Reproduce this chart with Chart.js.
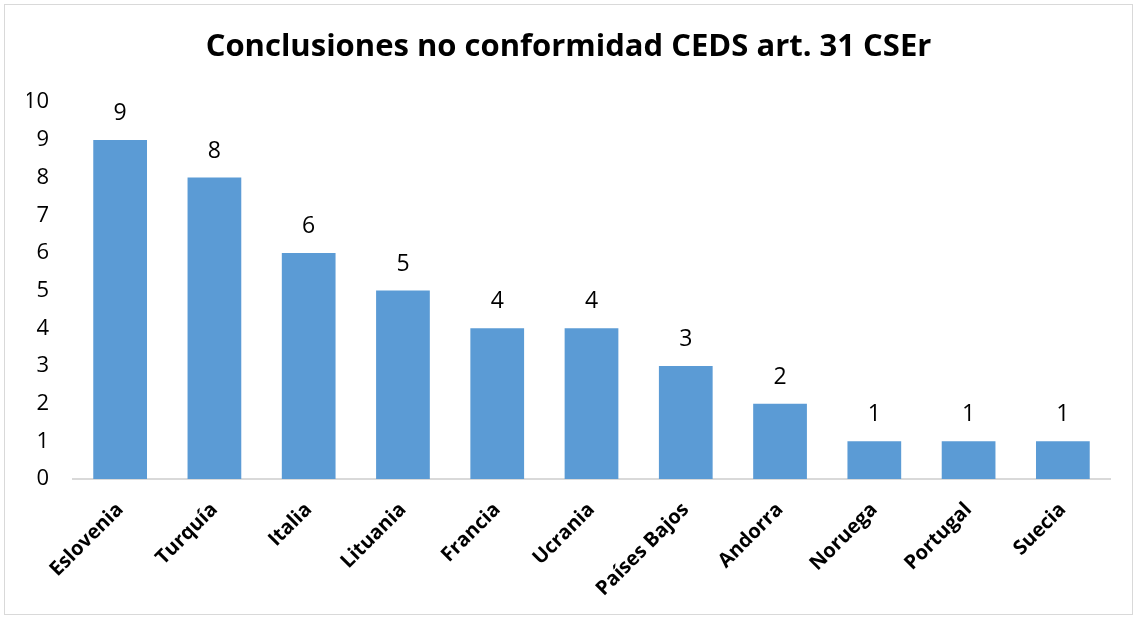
<!DOCTYPE html>
<html>
<head>
<meta charset="utf-8">
<script src="https://cdn.jsdelivr.net/npm/chart.js@4"></script>
<style>
  body { margin: 0; background: #fff; }
  #box { position: absolute; left: 4px; top: 4px; width: 1127px; height: 609px; border: 1px solid #d9d9d9; }
  canvas { display: block; }
</style>
</head>
<body>
<div id="box"><canvas id="myChart"></canvas></div>
<script>
const countries = ["Eslovenia", "Turquía", "Italia", "Lituania", "Francia", "Ucrania", "Países Bajos", "Andorra", "Noruega", "Portugal", "Suecia"];
const conclusions = [9, 8, 6, 5, 4, 4, 3, 2, 1, 1, 1];
const yTicks = [0, 1, 2, 3, 4, 5, 6, 7, 8, 9, 10];
const titleText = "Conclusiones no conformidad CEDS art. 31 CSEr";

const ctx = document.getElementById("myChart");

// labels over each bar, placed from the bar elements
const barLabels = {
  id: "barLabels",
  afterDatasetsDraw(chart) {
    const c = chart.ctx;
    const meta = chart.getDatasetMeta(0);
    c.save();
    c.font = "23px 'Open Sans'";
    c.fillStyle = "#000";
    c.textAlign = "center";
    c.textBaseline = "bottom";
    meta.data.forEach((bar, i) => {
      c.fillText(conclusions[i], bar.x, bar.y - 15);
    });
    c.restore();
  },
};

new Chart(ctx, {
  type: "bar",
  data: {
    labels: countries,
    datasets: [
      {
        data: conclusions,
        backgroundColor: "#5B9BD5",
        borderWidth: 0,
        categoryPercentage: 1,
        barPercentage: 0.57,
      },
    ],
  },
  options: {
    responsive: true,
    maintainAspectRatio: false,
    animation: false,
    layout: { padding: { left: 22, right: 22, top: 0, bottom: 0 } },
    plugins: {
      legend: { display: false },
      tooltip: { enabled: false },
      title: {
        display: true,
        text: titleText,
        color: "#000",
        font: { family: "'Open Sans'", size: 31, weight: "bold" },
        padding: { top: 24, bottom: 36 },
      },
    },
    scales: {
      x: {
        grid: { display: false, drawTicks: false },
        border: { color: "#d9d9d9", width: 2 },
        ticks: {
          color: "#000",
          font: { family: "'Open Sans'", size: 20, weight: "bold" },
          minRotation: 45,
          maxRotation: 45,
          autoSkip: false,
          padding: 19,
        },
        afterFit(scale) {
          scale.height = 135;
        },
      },
      y: {
        min: 0,
        max: 10,
        afterBuildTicks(scale) {
          scale.ticks = yTicks.map((v) => ({ value: v }));
        },
        grid: { display: false, drawTicks: false },
        border: { display: false },
        ticks: {
          color: "#000",
          font: { family: "'Open Sans'", size: 22 },
          padding: 24,
        },
        afterFit(scale) {
          scale.width = 46;
        },
      },
    },
  },
  plugins: [barLabels],
});
</script>
</body>
</html>
